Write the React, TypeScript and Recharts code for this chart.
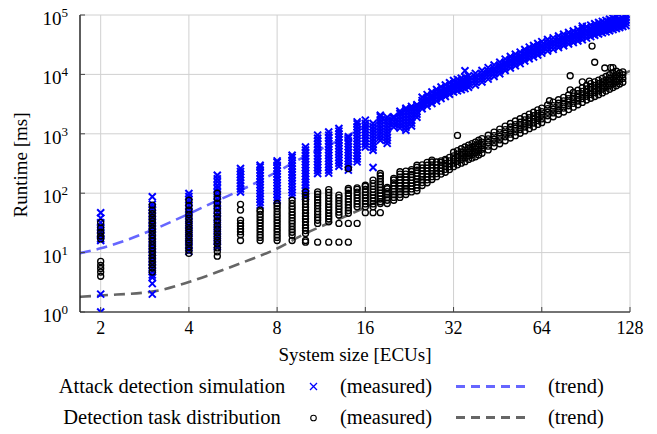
import React from 'react';
import { ComposedChart, Scatter, Line, XAxis, YAxis, CartesianGrid } from 'recharts';

// ---------- data ----------
const xTicks = [2, 4, 8, 16, 32, 64, 128];
const yTicks = [1, 10, 100, 1000, 10000, 100000];

// Attack detection simulation (measured), runtimes in ms per system size
const attackColumns: [number, number[]][] = [
  [2, [47, 38, 32, 27, 24, 21, 19, 17, 16, 2, 1]],
  [3, [87, 65, 58, 52, 46, 41, 36, 32, 28, 25, 22, 19.5, 17, 15, 13, 11.5, 10, 9, 8, 7, 6.2, 5.5, 4.8, 4.2, 3.8, 3, 2]],
  [4, [99, 88, 78, 70, 62, 55, 48, 42, 37, 32, 28, 24, 21, 18, 15.5, 13.5, 12, 10.5]],
  [5, [200, 175, 155, 135, 120, 105, 92, 80, 70, 62, 54, 47, 41, 36, 31, 27, 23.5, 20.5, 18, 15.5, 13.5, 12.4]],
  [6, [105, 118, 132, 148, 165, 185, 207, 232, 260]],
  [7, [63, 70, 79, 88, 99, 111, 124, 139, 156, 175, 196, 220, 246, 276, 296]],
  [8, [76, 85, 95, 107, 120, 134, 150, 168, 188, 211, 236, 264, 296, 331, 350]],
  [9, [92, 103, 115, 129, 145, 162, 182, 204, 228, 255, 286, 320, 358, 401, 435]],
  [10, [87, 97, 109, 122, 137, 153, 172, 192, 215, 241, 270, 302, 339, 380, 425, 476, 533, 600]],
  [11, [215, 241, 270, 302, 339, 380, 425, 476, 533, 597, 669, 749, 839, 950]],
  [12, [218, 244, 273, 306, 343, 384, 430, 482, 540, 604, 677, 758, 849, 951, 1075]],
  [13, [285, 319, 357, 400, 448, 502, 562, 630, 705, 790, 885, 991, 1110, 1230]],
  [14, [245, 274, 307, 344, 385, 431, 483, 541, 606, 679, 760, 851, 890]],
  [15, [337, 377, 423, 473, 530, 594, 665, 745, 834, 934, 1046, 1172, 1313, 1470, 1590]],
  [16, [600, 672, 753, 843, 944, 1058, 1185, 1327, 1486, 1700]],
  [17, [270, 530, 594, 665, 745, 834, 934, 1046, 1172, 1313, 1490]],
  [18, [780, 874, 979, 1096, 1228, 1375, 1540, 1725, 1932, 2050]],
  [19, [690, 773, 866, 970, 1086, 1216, 1362, 1526, 1709, 1900]],
  [20, [1300, 1456, 1631, 1826, 1940]],
  [21, [1250, 1400, 1568, 1756, 1967, 2203, 2400]],
  [22, [1150, 1288, 1443, 1616, 1810, 2027, 2270, 2543, 2700]],
  [23, [1350, 1512, 1693, 1897, 2124, 2379, 2664, 2900]],
  [24, [1900, 2128, 2383, 2669, 2990, 3100]],
  [25, [2640, 2970, 3300, 3630, 4130]],
  [26, [2920, 3290, 3650, 4020, 4560]],
  [27, [3240, 3650, 4050, 4460, 5060]],
  [28, [3560, 4000, 4450, 4900, 5560]],
  [29, [3920, 4410, 4900, 5390, 6130]],
  [30, [4240, 4770, 5300, 5830, 6630]],
  [31, [4640, 5220, 5800, 6380, 7250]],
  [32, [5040, 5670, 6300, 6930, 7880]],
  [33, [5280, 5940, 6600, 7260, 8250]],
  [34, [5520, 6210, 6900, 7590, 8630]],
  [35, [5760, 6480, 7200, 7920, 9000, 11500]],
  [36, [6080, 6840, 7600, 8360, 9500]],
  [38, [6640, 7470, 8300, 9130, 10400]],
  [40, [7440, 8370, 9300, 10200, 11600]],
  [42, [8320, 9360, 10400, 11400, 13000]],
  [44, [9200, 10350, 11500, 12650, 14400]],
  [46, [10240, 11500, 12800, 14100, 16000]],
  [48, [11600, 13050, 14500, 15950, 18100]],
  [50, [12800, 14400, 16000, 17600, 20000]],
  [52, [14000, 15750, 17500, 19250, 21900]],
  [54, [15200, 17100, 19000, 20900, 23750]],
  [56, [16800, 18900, 21000, 23100, 26250]],
  [58, [18400, 20700, 23000, 25300, 28750]],
  [60, [19600, 22050, 24500, 26950, 30600]],
  [62, [21200, 23850, 26500, 29150, 33100]],
  [64, [22800, 25650, 28500, 31350, 35600]],
  [67, [24800, 27900, 31000, 34100, 38750]],
  [70, [26400, 29700, 33000, 36300, 41250]],
  [73, [28400, 31950, 35500, 39050, 44400]],
  [76, [30400, 34200, 38000, 41800, 47500]],
  [79, [32400, 36450, 40500, 44550, 50600]],
  [82, [34400, 38700, 43000, 47300, 53750]],
  [85, [36400, 40950, 45500, 50050, 56900]],
  [88, [38400, 43200, 48000, 52800, 60000, 65000]],
  [91, [40800, 45900, 51000, 56100, 63750]],
  [94, [43200, 48600, 54000, 59400, 67500]],
  [97, [45600, 51300, 57000, 62700, 71250]],
  [100, [48000, 54000, 60000, 66000, 75000]],
  [103, [50000, 56250, 62500, 68750, 78100]],
  [106, [52000, 58500, 65000, 71500, 81250]],
  [109, [54400, 61200, 68000, 74800, 85000]],
  [112, [56800, 63900, 71000, 78100, 88750]],
  [115, [59200, 66600, 74000, 81400, 92500]],
  [118, [61600, 69300, 77000, 84700]],
  [121, [64000, 72000, 80000, 88000]],
  [124, [66400, 74700, 83000, 91300]],
];

// Detection task distribution (measured), runtimes in ms per system size
const detectionColumns: [number, number[]][] = [
  [2, [32, 26, 22, 19, 17, 7.1, 6.1, 5.4, 4.7, 4.0]],
  [3, [63, 52, 45, 39, 34, 30, 26, 23, 20, 17.5, 15.5, 13.5, 12, 10.5, 9.3, 8.2, 7.2, 6.3, 5.5, 4.7]],
  [4, [76, 62, 52, 44, 38, 33, 29, 25, 22, 19, 16.5, 14.5, 12.5, 11, 9.7]],
  [5, [100, 82, 68, 56, 47, 40, 34, 29, 25, 21.5, 18.5, 16, 14, 12, 10.3, 8.7]],
  [6, [16, 20, 22.5, 25, 28, 31, 35, 52, 65]],
  [7, [16, 18, 20, 22.5, 25, 28, 31.5, 35, 39.5, 44, 49, 52]],
  [8, [16, 18, 20, 22.5, 25, 28, 31.5, 35, 39.5, 44, 49, 55, 61, 67]],
  [9, [16, 19.6, 22, 24.5, 27.5, 31, 34.5, 38.5, 43, 48, 54, 60, 67, 76]],
  [10, [15, 16, 21, 23.5, 26, 29, 33, 37, 41, 46, 52, 58, 65, 73, 82, 92, 105]],
  [11, [15, 31, 35, 39, 44, 49, 55, 62, 69, 77, 86, 96, 105]],
  [12, [15, 33, 37, 41, 46, 52, 58, 65, 73, 82, 92, 103, 115]],
  [13, [15, 31, 43, 48, 54, 60, 67, 75, 84, 93]],
  [14, [15, 31, 46, 51, 57, 64, 72, 80, 90, 100, 112, 120, 260]],
  [15, [31, 59, 66, 74, 83, 93, 104, 116, 123]],
  [16, [47, 59, 66, 74, 83, 93, 104, 116, 130, 136]],
  [17, [47, 59, 66, 74, 83, 93, 104, 116, 130, 146, 166]],
  [18, [47, 67, 72, 80, 90, 100, 112, 125, 140, 157, 176, 197, 215]],
  [19, [67, 76, 85, 95, 106, 119, 125]],
  [20, [76, 85, 95, 106, 119, 133, 149, 167, 178]],
  [21, [85, 95, 106, 119, 133, 149, 167, 187, 210, 230]],
  [22, [95, 106, 119, 133, 149, 167, 187, 210, 235]],
  [23, [105, 118, 132, 148, 165, 185, 207, 232, 250]],
  [24, [110, 123, 138, 155, 173, 194, 217, 243, 272, 295]],
  [25, [135, 151, 169, 190, 212, 238, 266, 300]],
  [26, [150, 168, 188, 211, 236, 264, 296, 330]],
  [27, [170, 190, 213, 239, 267, 300, 335, 360]],
  [28, [190, 213, 238, 267, 299, 335]],
  [29, [210, 235, 263, 295, 330, 350]],
  [30, [225, 252, 282, 316, 354, 370]],
  [31, [250, 280, 314, 351, 400]],
  [32, [280, 320, 370, 425, 490]],
  [33, [300, 345, 395, 455, 520, 940]],
  [34, [320, 370, 425, 490, 560]],
  [35, [340, 395, 455, 525, 600]],
  [36, [370, 425, 490, 565, 645]],
  [37, [390, 450, 520, 600, 685]],
  [38, [410, 480, 550, 630, 725]],
  [39, [440, 515, 590, 680, 780]],
  [40, [470, 550, 630, 725, 830]],
  [42, [535, 620, 715, 820, 945]],
  [44, [610, 705, 810, 930, 1070]],
  [46, [680, 790, 910, 1045, 1200]],
  [48, [765, 890, 1020, 1175, 1350]],
  [50, [850, 985, 1130, 1300, 1490]],
  [52, [930, 1080, 1240, 1425, 1640]],
  [54, [1020, 1180, 1360, 1565, 1795]],
  [56, [1120, 1300, 1490, 1715, 1970]],
  [58, [1220, 1420, 1630, 1875, 2150]],
  [60, [1310, 1520, 1750, 2010, 2310]],
  [62, [1440, 1670, 1920, 2210, 2530]],
  [64, [1540, 1780, 2050, 2360, 2710]],
  [67, [1730, 2010, 2310, 2660, 3050]],
  [68, [3600]],
  [70, [1940, 2250, 2590, 2980, 3420]],
  [73, [2130, 2470, 2840, 3270, 3750]],
  [76, [2330, 2710, 3110, 3580, 4100]],
  [79, [2560, 2970, 3410, 3920, 4500]],
  [80, [5500, 9500]],
  [82, [2810, 3260, 3750, 4310, 4950]],
  [85, [3080, 3570, 4100, 4720, 5410]],
  [88, [3380, 3920, 4500, 5180, 5940, 7500]],
  [91, [3700, 4290, 4930, 5670, 6510]],
  [93, [7700]],
  [94, [3970, 4600, 5290, 6080, 6980]],
  [95, [30000]],
  [97, [4250, 4930, 5670, 6520, 7480, 16000]],
  [100, [4550, 5280, 6070, 6980, 8010]],
  [103, [4880, 5660, 6510, 7490, 8590]],
  [105, [12800]],
  [106, [5240, 6070, 6980, 8030, 9210]],
  [109, [5600, 6500, 7470, 8590, 9860]],
  [110, [13000]],
  [112, [6000, 6960, 8000, 9200, 10560, 13000]],
  [115, [6430, 7460, 8570, 9860, 11300]],
  [118, [6890, 8000, 9190, 10570]],
  [121, [7390, 8570, 9850, 11000]],
];

// Trend curves
const attackTrendX = [1.7, 2, 3, 4, 5, 6, 8, 10, 12, 16, 20, 24, 32, 48, 64, 96, 128];
const attackTrendY = [9.8, 11.8, 24, 45, 75, 112, 230, 420, 640, 1300, 1950, 2800, 6300, 15500, 30000, 60000, 92000];
const detectionTrendX = [1.7, 2, 3, 4, 5, 6, 8, 10, 14, 16, 20, 25, 32, 48, 64, 96, 128];
const detectionTrendY = [1.8, 1.9, 2.2, 3.2, 4.7, 6.6, 11.7, 21, 43, 58, 100, 175, 340, 930, 1900, 5500, 11500];

// ---------- build tables ----------
const toPoints = (cols: [number, number[]][]) =>
  cols.flatMap(([n, vs]) => vs.map((v) => ({ x: n, y: v })));
const attackPoints = toPoints(attackColumns);
const detectionPoints = toPoints(detectionColumns);
const attackTrend = attackTrendX.map((x, i) => ({ x, y: attackTrendY[i] }));
const detectionTrend = detectionTrendX.map((x, i) => ({ x, y: detectionTrendY[i] }));

const FONT = "'Liberation Serif', 'DejaVu Serif', serif";
const BLUE = '#0000ff';
const BLUE_TREND = '#6666ff';
const GRAY_TREND = '#666666';
const txt = { fontFamily: FONT };

const Cross = (props: any) => {
  const { cx, cy } = props;
  if (cx == null || cy == null) return null;
  const s = 3.5;
  return (
    <path
      d={`M${cx - s},${cy - s}L${cx + s},${cy + s}M${cx - s},${cy + s}L${cx + s},${cy - s}`}
      stroke={BLUE}
      strokeWidth={2}
      fill="none"
    />
  );
};

const Ring = (props: any) => {
  const { cx, cy } = props;
  if (cx == null || cy == null) return null;
  return <circle cx={cx} cy={cy} r={3} stroke="#000" strokeWidth={1.35} fill="none" />;
};

const XTick = (props: any) => {
  const { x, y, payload } = props;
  return (
    <g>
      <line x1={x} x2={x} y1={y - 12} y2={y - 17} stroke="#444" strokeWidth={1} />
      <text x={x} y={y} dy={10} textAnchor="middle" style={txt} fontSize={18} fill="#000">
        {payload.value}
      </text>
    </g>
  );
};

const YTick = (props: any) => {
  const { x, y, payload } = props;
  const e = Math.round(Math.log10(payload.value));
  return (
    <g>
      <line x1={x + 12} x2={x + 17} y1={y} y2={y} stroke="#444" strokeWidth={1} />
      <text x={x} y={y} dy={10} textAnchor="end" style={txt} fontSize={19} fill="#000">
        10
        <tspan dy={-8} fontSize={13}>
          {e}
        </tspan>
      </text>
    </g>
  );
};

export default function App() {
  return (
    <div style={{ position: 'absolute', left: 0, top: 0, width: 657, height: 434, background: '#fff', fontFamily: FONT }}>
      <ComposedChart
        width={657}
        height={434}
        margin={{ top: 15, right: 27, left: 0, bottom: 92 }}
      >
        <CartesianGrid stroke="#d0d0d0" strokeWidth={1} />
        <XAxis
          dataKey="x"
          type="number"
          scale="log"
          domain={[1.7, 128]}
          ticks={xTicks}
          allowDataOverflow
          height={30}
          tickSize={0}
          tickMargin={12}
          tickLine={false}
          axisLine={{ stroke: '#000', strokeWidth: 1.2 }}
          tick={<XTick />}
          interval={0}
        />
        <YAxis
          type="number"
          scale="log"
          domain={[1, 100000]}
          ticks={yTicks}
          allowDataOverflow
          width={80}
          tickSize={0}
          tickMargin={12}
          tickLine={false}
          axisLine={{ stroke: '#000', strokeWidth: 1.2 }}
          tick={<YTick />}
          interval={0}
        />
        <Scatter data={attackPoints} dataKey="y" shape={<Cross />} isAnimationActive={false} />
        <Scatter data={detectionPoints} dataKey="y" shape={<Ring />} isAnimationActive={false} />
        <Line
          data={attackTrend}
          dataKey="y"
          type="monotone"
          stroke={BLUE_TREND}
          strokeWidth={2.6}
          strokeDasharray="11 6"
          dot={false}
          activeDot={false}
          isAnimationActive={false}
        />
        <Line
          data={detectionTrend}
          dataKey="y"
          type="monotone"
          stroke={GRAY_TREND}
          strokeWidth={2.6}
          strokeDasharray="11 6"
          dot={false}
          activeDot={false}
          isAnimationActive={false}
        />
      </ComposedChart>
      <svg
        width={657}
        height={434}
        style={{ position: 'absolute', left: 0, top: 0, pointerEvents: 'none', fontFamily: FONT }}
      >
        <text x={355} y={361} textAnchor="middle" fontSize={19} style={txt}>System size [ECUs]</text>
        <text
          x={0}
          y={0}
          transform="translate(27,165) rotate(-90)"
          textAnchor="middle"
          fontSize={19}
          style={txt}
        >
          Runtime [ms]
        </text>
        <g fontSize={20.5} style={txt}>
          <text x={172} y={393} textAnchor="middle">Attack detection simulation</text>
          <path d="M310,383L317,390M310,390L317,383" stroke={BLUE} strokeWidth={1.3} fill="none" />
          <text x={340} y={393}>(measured)</text>
          <line x1={456} x2={528} y1={386.5} y2={386.5} stroke={BLUE_TREND} strokeWidth={3} strokeDasharray="9 6" />
          <text x={548} y={393}>(trend)</text>

          <text x={172} y={424} textAnchor="middle">Detection task distribution</text>
          <circle cx={313.5} cy={418} r={2.8} stroke="#000" strokeWidth={1.1} fill="none" />
          <text x={340} y={424}>(measured)</text>
          <line x1={456} x2={528} y1={417.5} y2={417.5} stroke={GRAY_TREND} strokeWidth={3} strokeDasharray="9 6" />
          <text x={548} y={424}>(trend)</text>
        </g>
      </svg>
    </div>
  );
}
